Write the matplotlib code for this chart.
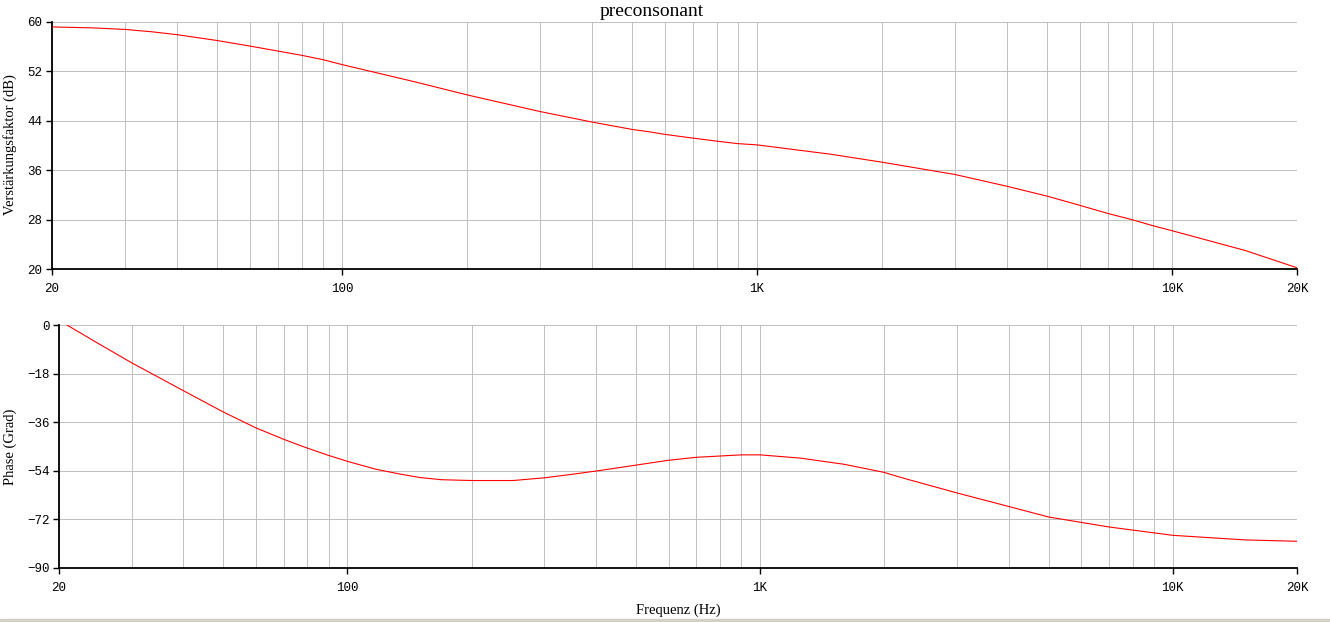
import matplotlib
matplotlib.use("Agg")
import matplotlib.pyplot as plt
from matplotlib.patches import Rectangle

# amplitude response
freq_gain = [20, 25, 30, 35, 40, 45, 50, 60, 70, 80, 90, 100, 150, 200, 300, 400, 500,
             552, 600, 700, 800, 900, 1000, 1500, 2000, 3000, 4000, 5000, 6000, 7000,
             8000, 9000, 10000, 15000, 20000]
gain_db = [59.2, 59.05, 58.8, 58.4, 57.95, 57.45, 57.0, 56.1, 55.3, 54.6, 53.9, 53.1,
           50.3, 48.2, 45.5, 43.8, 42.6, 42.2, 41.8, 41.2, 40.7, 40.3, 40.1, 38.6, 37.3,
           35.3, 33.4, 31.8, 30.3, 29.0, 28.0, 27.0, 26.2, 23.0, 20.2]

# phase response
freq_phase = [20.9, 25, 30, 40, 50, 60, 70, 76.7, 80, 90, 100, 117, 134, 150, 169, 200,
              252, 300, 350, 404, 500, 600, 700, 900, 1000, 1252, 1600, 2000, 2186, 3000,
              4000, 5000, 7000, 10000, 15000, 20000]
phase_deg = [0.0, -7.0, -14.0, -24.3, -32.2, -38.1, -42.3, -44.6, -45.6, -48.3, -50.5,
             -53.4, -55.2, -56.5, -57.3, -57.6, -57.6, -56.6, -55.3, -54.0, -51.9, -50.1,
             -49.0, -48.1, -48.1, -49.3, -51.6, -54.6, -56.4, -62.2, -67.2, -71.1, -74.8,
             -77.9, -79.6, -80.1]

major_x = [20, 100, 1000, 10000, 20000]
major_x_labels = ["20", "100", "1K", "10K", "20K"]
minor_x = [30, 40, 50, 60, 70, 80, 90, 200, 300, 400, 500, 600, 700, 800, 900,
           2000, 3000, 4000, 5000, 6000, 7000, 8000, 9000]

gain_ticks = [20, 28, 36, 44, 52, 60]
phase_ticks = [-90, -72, -54, -36, -18, 0]

W, H = 1330, 622
fig = plt.figure(figsize=(W / 100, H / 100), dpi=100)
fig.patch.set_facecolor("white")

mono = "Liberation Mono"
serif = "Liberation Serif"
gridc = "#c0c0c0"


def setup(ax, yticks, ylim):
    ax.set_xscale("log")
    ax.set_xlim(20, 20000)
    ax.set_ylim(*ylim)
    ax.set_xticks(major_x)
    ax.set_xticklabels(major_x_labels)
    ax.set_xticks(minor_x, minor=True)
    ax.set_yticks(yticks)
    ax.set_yticklabels([str(t).replace("-", "\u2212") for t in yticks])
    ax.grid(True, which="both", color=gridc, linewidth=0.72, antialiased=False)
    ax.set_axisbelow(True)
    for s in ["top", "right"]:
        ax.spines[s].set_visible(False)
    for s in ["left", "bottom"]:
        ax.spines[s].set_color("black")
        ax.spines[s].set_linewidth(1.3)
        ax.spines[s].set_zorder(3)
    ax.tick_params(which="major", direction="out", length=4, width=1.0, color="black",
                   labelsize=9, pad=6)
    ax.tick_params(axis="y", pad=3)
    ax.tick_params(which="minor", length=0)
    for lab in ax.get_xticklabels() + ax.get_yticklabels():
        lab.set_family(mono)


ax1 = fig.add_axes([52 / W, 1 - 269 / H, (1297 - 52) / W, (269 - 22) / H])
setup(ax1, gain_ticks, (20, 60))
ax1.plot(freq_gain, gain_db, color="red", linewidth=0.8, zorder=4)

ax2 = fig.add_axes([59 / W, 1 - 568 / H, (1297 - 59) / W, (568 - 325) / H])
setup(ax2, phase_ticks, (-90, 0))
ax2.plot(freq_phase, phase_deg, color="red", linewidth=0.8, zorder=4)

# gridline on the top edge
for ax in (ax1, ax2):
    ax.axhline(ax.get_ylim()[1], color=gridc, linewidth=0.72, antialiased=False, zorder=1)

fig.text(652 / W, 1 - 11 / H, "preconsonant", family=serif, fontsize=14,
         ha="center", va="center")
fig.text(10 / W, 1 - 145 / H, "Verstärkungsfaktor (dB)", family=serif, fontsize=10.5,
         rotation=90, ha="center", va="center")
fig.text(10 / W, 1 - 447 / H, "Phase (Grad)", family=serif, fontsize=10.5,
         rotation=90, ha="center", va="center")
fig.text(678 / W, 1 - 610 / H, "Frequenz (Hz)", family=serif, fontsize=10.5,
         ha="center", va="center")

# grey strip along the bottom edge of the screenshot
fig.patches.append(Rectangle((0, 0), 1, 3 / H, transform=fig.transFigure,
                             color="#d4d0c8", zorder=0))

fig.savefig("out.png", dpi=100)
